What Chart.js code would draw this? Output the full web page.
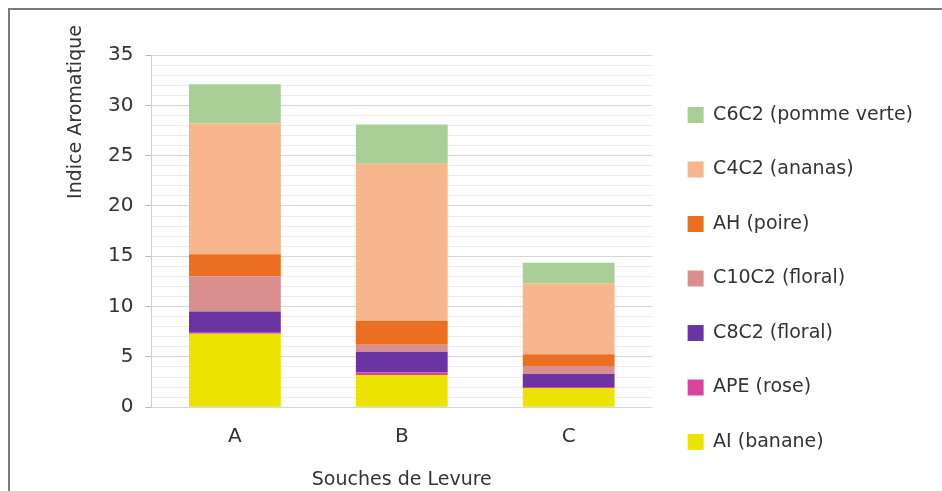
<!DOCTYPE html>
<html lang="fr">
<head>
<meta charset="utf-8">
<title>Indice Aromatique</title>
<script src="https://cdn.jsdelivr.net/npm/chart.js@4.4.0/dist/chart.umd.min.js"></script>
<style>
    html, body {
        margin: 0;
        padding: 0;
        background: #ffffff;
    }
    .frame {
        position: absolute;
        left: 8px;
        top: 8px;
        width: 940px;
        height: 490px;
        border-top: 2px solid #7a7a7a;
        border-left: 2px solid #7a7a7a;
        box-sizing: border-box;
    }
    .chart-box {
        position: absolute;
        left: 0;
        top: 0;
        width: 942px;
        height: 491px;
    }
</style>
</head>
<body>
<div class="frame"></div>
<div class="chart-box"><canvas id="aromaChart"></canvas></div>
<script>
// yeast strains
const categories = ['A', 'B', 'C'];

// aromatic index per compound
const aiBanane = [7.3, 3.2, 1.9];
const apeRose = [0.1, 0.25, 0.1];
const c8c2Floral = [2.1, 2.05, 1.3];
const c10c2Floral = [3.5, 0.7, 0.8];
const ahPoire = [2.2, 2.4, 1.15];
const c4c2Ananas = [13.0, 15.6, 7.05];
const c6c2Pomme = [3.9, 3.9, 2.05];

const yMax = 35;
const yMajorStep = 5;

const fontFamily = '"DejaVu Sans", Verdana, sans-serif';
const textColor = '#333333';

document.addEventListener('DOMContentLoaded', function() {
    initializeAromaChart();
});

function makeDataset(label, values, color) {
    return {
        label: label,
        data: values,
        backgroundColor: color,
        borderWidth: 0,
        barPercentage: 0.55,
        categoryPercentage: 1.0
    };
}

// y title sits near the top of the axis, not centred on it
const yTitlePlugin = {
    id: 'yTitle',
    afterDraw(chart) {
        const ctx = chart.ctx;
        ctx.save();
        ctx.translate(76, 112);
        ctx.rotate(-Math.PI / 2);
        ctx.font = '19px ' + fontFamily;
        ctx.fillStyle = textColor;
        ctx.textAlign = 'center';
        ctx.textBaseline = 'middle';
        ctx.fillText('Indice Aromatique', 0, 0);
        ctx.restore();
    }
};

function initializeAromaChart() {
    const ctx = document.getElementById('aromaChart').getContext('2d');

    const aromaChart = new Chart(ctx, {
        type: 'bar',
        data: {
            labels: categories,
            datasets: [
                makeDataset('AI (banane)', aiBanane, '#ece400'),
                makeDataset('APE (rose)', apeRose, '#d8449e'),
                makeDataset('C8C2 (floral)', c8c2Floral, '#6a35a2'),
                makeDataset('C10C2 (floral)', c10c2Floral, '#d98f90'),
                makeDataset('AH (poire)', ahPoire, '#ec6e20'),
                makeDataset('C4C2 (ananas)', c4c2Ananas, '#f7b68c'),
                makeDataset('C6C2 (pomme verte)', c6c2Pomme, '#a9cf97')
            ]
        },
        options: {
            responsive: true,
            maintainAspectRatio: false,
            animation: false,
            layout: {
                padding: { top: 55, left: 96, right: 19, bottom: 0 }
            },
            plugins: {
                tooltip: { enabled: false },
                legend: {
                    display: true,
                    position: 'right',
                    align: 'start',
                    reverse: true,
                    maxWidth: 320,
                    title: {
                        display: true,
                        text: '',
                        font: { size: 10, lineHeight: 1 },
                        padding: { top: 5, bottom: 0 }
                    },
                    labels: {
                        boxWidth: 16,
                        boxHeight: 16,
                        padding: 35.5,
                        color: textColor,
                        font: {
                            family: fontFamily,
                            size: 19
                        }
                    }
                }
            },
            scales: {
                x: {
                    stacked: true,
                    grid: { display: false, drawTicks: false },
                    border: { display: false },
                    ticks: {
                        padding: 18,
                        color: textColor,
                        font: { family: fontFamily, size: 20 }
                    },
                    title: {
                        display: true,
                        text: 'Souches de Levure',
                        color: textColor,
                        padding: { top: 1, bottom: 0 },
                        font: { family: fontFamily, size: 19 }
                    }
                },
                y: {
                    stacked: true,
                    min: 0,
                    max: yMax,
                    grid: {
                        color: function(c) {
                            return c.tick.value % yMajorStep === 0 ? '#d6d6d6' : '#ececec';
                        },
                        tickColor: function(c) {
                            return c.tick.value % yMajorStep === 0 ? '#b8b8b8' : 'rgba(0,0,0,0)';
                        },
                        tickLength: 6
                    },
                    border: { display: true, color: '#cfcfcf' },
                    ticks: {
                        stepSize: 1,
                        autoSkip: false,
                        padding: 12,
                        color: textColor,
                        font: { family: fontFamily, size: 20 },
                        callback: function(value) {
                            return value % yMajorStep === 0 ? value : '';
                        }
                    }
                }
            }
        },
        plugins: [yTitlePlugin]
    });
    window.aromaChart = aromaChart;
}
</script>
</body>
</html>
